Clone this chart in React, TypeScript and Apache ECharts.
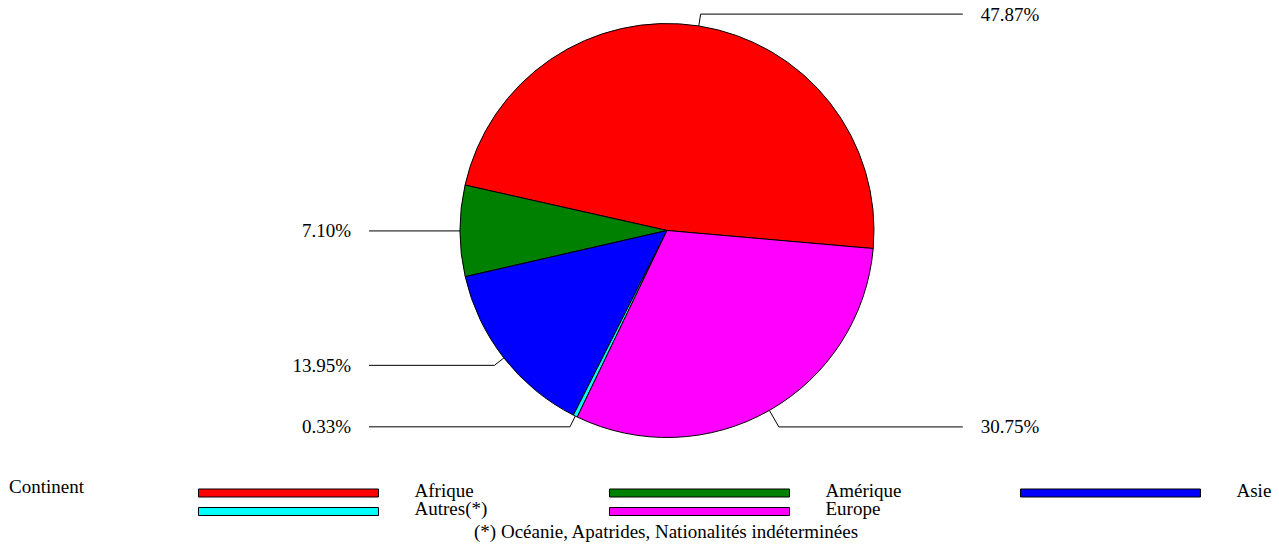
import React, { useEffect, useRef } from 'react';
import * as echarts from 'echarts';

const categories = ['Afrique', 'Amérique', 'Asie', 'Autres(*)', 'Europe'];
const shares = [47.87, 7.1, 13.95, 0.33, 30.75];
const colors = ['#ff0000', '#008000', '#0000ff', '#00ffff', '#ff00ff'];
const legendTitle = 'Continent';
const footnote = '(*) Océanie, Apatrides, Nationalités indéterminées';

const FONT = "'Liberation Serif', 'Times New Roman', serif";

export default function App() {
  const ref = useRef<HTMLDivElement>(null);
  useEffect(() => {
    document.body.style.margin = '0';
    const chart = echarts.init(ref.current!, null, { renderer: 'svg' });
    const legendPos = [
      [198, 480.5],
      [609, 480.5],
      [1020, 480.5],
      [198, 499],
      [609, 499],
    ];
    const textBase = { fontFamily: FONT, fontSize: 19, fontWeight: 'normal', color: '#000' };
    chart.setOption({
      animation: false,
      backgroundColor: '#ffffff',
      title: [
        { text: legendTitle, left: 9, top: 477, padding: 0, textStyle: textBase },
        { text: footnote, left: 474, top: 522, padding: 0, textStyle: textBase },
      ],
      legend: categories.map((name, i) => ({
        data: [name],
        left: legendPos[i][0],
        top: legendPos[i][1],
        padding: 0,
        itemWidth: 180,
        itemHeight: 8,
        icon: 'rect',
        selectedMode: false,
        itemStyle: { borderColor: '#000', borderWidth: 1 },
        formatter: (n: string) => '{t|' + n + '}',
        textStyle: {
          ...textBase,
          padding: [0, 0, 0, 31],
          rich: { t: { ...textBase, lineHeight: 19, padding: [0, 0, 6, 0] } },
        },
      })),
      series: [
        {
          type: 'pie',
          center: [667, 230.5],
          radius: 207,
          startAngle: -5,
          clockwise: false,
          itemStyle: { borderColor: '#000', borderWidth: 1 },
          label: {
            show: true,
            position: 'outer',
            alignTo: 'labelLine',
            distanceToLabelLine: 18,
            formatter: (p: any) => Number(p.value).toFixed(2) + '%',
            ...textBase,
          },
          labelLine: { show: true, length: 12, length2: 79, lineStyle: { color: '#000', width: 1 } },
          emphasis: { disabled: true },
          data: categories.map((name, i) => ({
            name,
            value: shares[i],
            itemStyle: { color: colors[i] },
            ...(name === 'Europe' ? { labelLine: { length: 19, length2: 184 } } : {}),
          })),
        },
      ],
    });
    return () => chart.dispose();
  }, []);
  return (
    <div
      ref={ref}
      style={{ position: 'absolute', left: 0, top: 0, width: 1279, height: 545 }}
    />
  );
}
